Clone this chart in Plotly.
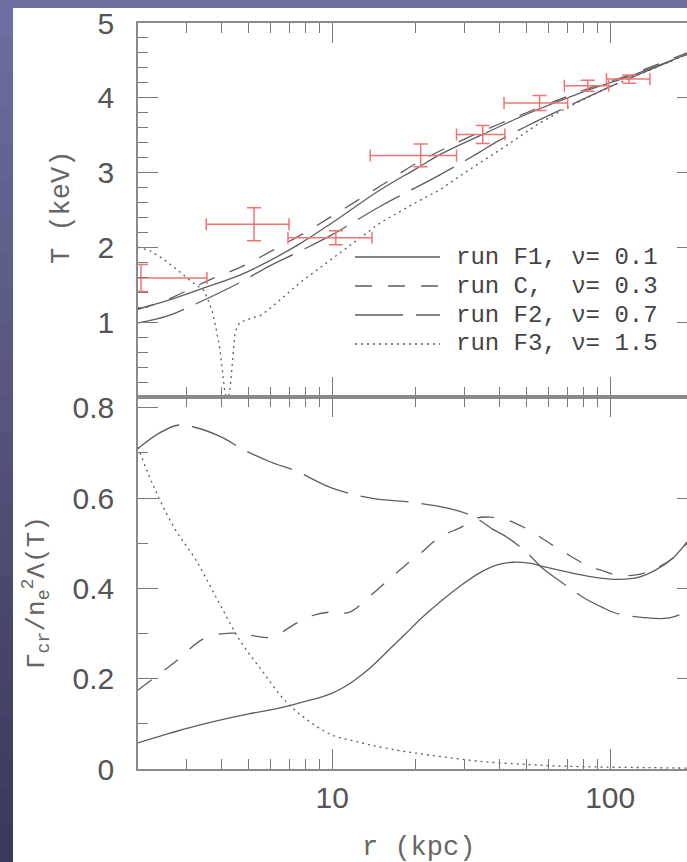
import numpy as np
import plotly.graph_objects as go

# ---------------- data ----------------
# top panel: temperature profiles T(r) [keV]
f1_r = [2, 2.5, 3.34, 4.65, 5.8, 7.66, 10, 14.9, 20, 24.4, 34.8, 50, 80, 120, 189]
f1_T = [1.18, 1.28, 1.44, 1.63, 1.8, 2.05, 2.33, 2.77, 3.05, 3.24, 3.51, 3.78, 4.08, 4.3, 4.58]

c_r = [2, 2.54, 3.64, 4.77, 6.1, 8, 10, 14.9, 20, 30, 50, 80, 120, 189]
c_T = [1.17, 1.3, 1.57, 1.75, 1.96, 2.2, 2.42, 2.82, 3.12, 3.45, 3.8, 4.1, 4.32, 4.6]

f2_r = [2, 2.54, 3.34, 4.65, 5.8, 7.66, 10, 14.9, 24.4, 33.8, 39, 50, 70, 100, 140, 189]
f2_T = [0.99, 1.08, 1.27, 1.53, 1.73, 1.95, 2.17, 2.55, 2.97, 3.27, 3.41, 3.62, 3.88, 4.15, 4.38, 4.58]

f3_r = [2, 2.2, 2.5, 2.8, 3.1, 3.47, 3.7, 3.8, 3.92, 4.0, 4.1, 4.15, 4.25, 4.3, 4.4, 4.47,
        4.65, 5.0, 5.6, 6.5, 7.66, 10, 14.9, 20, 24.4, 30, 40, 55, 70, 100, 140, 189]
f3_T = [2.0, 1.96, 1.83, 1.68, 1.55, 1.42, 1.15, 0.95, 0.7, 0.45, 0.08, 0.0, 0.02, 0.15, 0.6, 0.87,
        1.0, 1.04, 1.1, 1.3, 1.53, 1.85, 2.33, 2.6, 2.77, 3.0, 3.3, 3.65, 3.87, 4.15, 4.38, 4.58]

# observed temperatures with error bars
obs_r = [2.05, 5.23, 10.3, 20.8, 34.8, 55.7, 83.1, 117]
obs_T = [1.59, 2.31, 2.13, 3.23, 3.51, 3.93, 4.16, 4.25]
obs_Terr = [0.18, 0.22, 0.093, 0.153, 0.12, 0.1, 0.073, 0.055]
obs_rlo = [1.2, 3.52, 6.93, 13.7, 28.0, 41.5, 68.4, 97]
obs_rhi = [3.54, 6.99, 13.9, 28.0, 41.8, 70.3, 98.8, 139]

# bottom panel: Gamma_cr / (n_e^2 Lambda(T))
g1_r = [2, 3, 3.87, 5, 6.68, 8, 9, 10, 11, 12, 13.8, 16, 18.4, 21, 24.4, 28.8, 33.8, 39.2, 44.8,
        51, 58.8, 73, 92, 108, 127, 146, 168, 189]
g1_v = [0.058, 0.09, 0.107, 0.122, 0.137, 0.15, 0.158, 0.168, 0.181, 0.196, 0.226, 0.264, 0.3,
        0.335, 0.37, 0.405, 0.434, 0.452, 0.458, 0.456, 0.447, 0.434, 0.423, 0.42, 0.425, 0.441,
        0.467, 0.503]

gc_r = [2, 2.69, 3.48, 4.32, 5.0, 5.99, 7.44, 8.5, 10, 11.5, 13.8, 16, 18.4, 21, 24.4, 28.8, 33.2,
        36.9, 42.4, 48.7, 54.6, 62, 71, 82, 92, 105, 124, 142, 168, 189]
gc_v = [0.175, 0.235, 0.29, 0.301, 0.297, 0.292, 0.323, 0.34, 0.348, 0.347, 0.385, 0.42, 0.452,
        0.48, 0.514, 0.534, 0.556, 0.558, 0.552, 0.536, 0.518, 0.496, 0.474, 0.452, 0.441, 0.43,
        0.43, 0.441, 0.467, 0.5]

g2_r = [2, 2.4, 2.8, 3.2, 4, 4.8, 6, 7.4, 10, 13.8, 19.8, 26, 32, 38.3, 42.4, 50, 57, 65, 80, 93,
        105, 130, 160, 189]
g2_v = [0.71, 0.745, 0.762, 0.757, 0.735, 0.707, 0.68, 0.66, 0.622, 0.6, 0.59, 0.578, 0.56, 0.529,
        0.514, 0.48, 0.445, 0.419, 0.38, 0.359, 0.345, 0.336, 0.334, 0.348]

g3_r = [2, 2.25, 2.69, 3.23, 3.87, 4.64, 5.57, 6.68, 8.0, 10, 12, 14, 17, 20, 25, 34, 50, 70, 100,
        140, 189]
g3_v = [0.713, 0.633, 0.536, 0.463, 0.374, 0.286, 0.219, 0.155, 0.112, 0.075, 0.062, 0.052, 0.042,
        0.035, 0.027, 0.017, 0.01, 0.006, 0.004, 0.003, 0.002]

legend_labels = ["run F1, \u03bd= 0.1", "run C,\u00a0\u00a0\u03bd= 0.3",
                 "run F2, \u03bd= 0.7", "run F3, \u03bd= 1.5"]

x_major = [10, 100]
x_minor = [2, 3, 4, 5, 6, 7, 8, 9, 20, 30, 40, 50, 60, 70, 80, 90]
y1_ticks = [1, 2, 3, 4, 5]
y2_ticks = [0, 0.2, 0.4, 0.6, 0.8]
y2_text = ["0", "0.2", "0.4", "0.6", "0.8"]

# ---------------- layout geometry ----------------
W, H = 687, 862
ML, MR, MT, MB = 138, 0, 23, 93
PW = W - ML - MR
PH = H - MT - MB
SPLIT = (769 - 397) / PH


def px(xp):
    return (xp - ML) / PW


def py(yp):
    return (H - MB - yp) / PH


LINE = "#5e5e5e"
RED = "#f07474"
AX = "#8a8a8a"
TICKC = "#7a7a7a"
dashes = ["solid", "17px,16px", "48px,13px", "2px,4px"]
LW = 1.3

fig = go.Figure()

top = [(f1_r, f1_T, "spline"), (c_r, c_T, "spline"), (f2_r, f2_T, "spline"), (f3_r, f3_T, "linear")]
for (r, t, shp), d in zip(top, dashes):
    fig.add_trace(go.Scatter(x=r, y=t, mode="lines", xaxis="x", yaxis="y", showlegend=False,
                             line=dict(color=LINE, width=LW, dash=d, shape=shp), hoverinfo="skip"))

obs_r_a = np.array(obs_r)
fig.add_trace(go.Scatter(
    x=obs_r, y=obs_T, mode="markers", xaxis="x", yaxis="y", showlegend=False,
    marker=dict(size=2, color=RED),
    error_y=dict(type="data", array=obs_Terr, color=RED, thickness=1.5, width=7),
    error_x=dict(type="data", symmetric=False, array=list(np.array(obs_rhi) - obs_r_a),
                 arrayminus=list(obs_r_a - np.array(obs_rlo)), color=RED, thickness=1.5, width=6),
))

bot = [(g1_r, g1_v), (gc_r, gc_v), (g2_r, g2_v), (g3_r, g3_v)]
for (r, v), d in zip(bot, dashes):
    fig.add_trace(go.Scatter(x=r, y=v, mode="lines", xaxis="x2", yaxis="y2", showlegend=False,
                             line=dict(color=LINE, width=LW, dash=d, shape="spline"), hoverinfo="skip"))

# dummy traces to activate right-side stub axes
fig.add_trace(go.Scatter(x=[None], y=[None], xaxis="x", yaxis="y3", showlegend=False, hoverinfo="skip"))
fig.add_trace(go.Scatter(x=[None], y=[None], xaxis="x2", yaxis="y4", showlegend=False, hoverinfo="skip"))

tickfont = dict(family="Liberation Sans", size=30, color="#555555")
xr = [np.log10(2), np.log10(189)]
xcommon = dict(type="log", range=xr, domain=[0, 1], showgrid=False, zeroline=False,
               showline=True, linecolor=AX, linewidth=1.5, mirror="ticks",
               ticks="inside", ticklen=20, tickwidth=1.2, tickcolor=TICKC,
               tickmode="array", tickvals=x_major, ticktext=["10", "100"],
               minor=dict(ticks="inside", ticklen=10, tickwidth=1.2, tickcolor=TICKC,
                          tickmode="array", tickvals=x_minor, showgrid=False),
               tickfont=tickfont, ticklabelstandoff=1)

ycommon = dict(showgrid=False, zeroline=False, showline=True, linecolor=AX, linewidth=1.5,
               ticks="inside", ticklen=20, tickwidth=1.2, tickcolor=TICKC, tickmode="array",
               tickfont=tickfont, ticklabelstandoff=16)

fig.update_layout(
    width=W, height=H,
    margin=dict(l=ML, r=MR, t=MT, b=MB, pad=0),
    paper_bgcolor="white", plot_bgcolor="white",
    showlegend=False,
    xaxis=dict(**xcommon, anchor="y", showticklabels=False),
    xaxis2=dict(**xcommon, anchor="y2", showticklabels=True),
    yaxis=dict(**ycommon, domain=[SPLIT, 1], range=[0, 5], anchor="x",
               tickvals=y1_ticks, ticktext=[str(v) for v in y1_ticks],
               minor=dict(ticks="inside", ticklen=10, tickwidth=1.2, tickcolor=TICKC, dtick=0.2,
                          showgrid=False)),
    yaxis2=dict(**ycommon, domain=[0, SPLIT], range=[0, 0.824], anchor="x2",
                tickvals=y2_ticks, ticktext=y2_text,
                minor=dict(ticks="inside", ticklen=10, tickwidth=1.2, tickcolor=TICKC, dtick=0.1,
                           showgrid=False)),
    yaxis3=dict(overlaying="y", side="right", anchor="x", range=[0, 5], showgrid=False,
                zeroline=False, showline=False, showticklabels=False, ticks="inside", ticklen=10,
                tickwidth=1.2, tickcolor=TICKC, tickmode="array", tickvals=[1, 2, 3, 4]),
    yaxis4=dict(overlaying="y2", side="right", anchor="x2", range=[0, 0.824], showgrid=False,
                zeroline=False, showline=False, showticklabels=False, ticks="inside", ticklen=10,
                tickwidth=1.2, tickcolor=TICKC, tickmode="array", tickvals=[0.2, 0.4, 0.6]),
)

shapes = []
# purple frame bands (left gradient, top band)
n = 24
c0 = np.array([110, 110, 160])
c1 = np.array([58, 58, 90])
for i in range(n):
    f = i / (n - 1)
    c = (c0 * (1 - f) + c1 * f).astype(int)
    y0p = H * i / n
    y1p = H * (i + 1) / n
    shapes.append(dict(type="rect", xref="paper", yref="paper", x0=px(0), x1=px(13),
                       y0=py(y1p + 1), y1=py(y0p), line=dict(width=0),
                       fillcolor=f"rgb({c[0]},{c[1]},{c[2]})", layer="above"))
shapes.append(dict(type="rect", xref="paper", yref="paper", x0=px(13), x1=px(W + 2),
                   y0=py(8), y1=py(0), line=dict(width=0), fillcolor="rgb(112,112,160)",
                   layer="above"))

# legend samples
leg_y = [257, 286, 315, 344]
for yy, d in zip(leg_y, dashes):
    shapes.append(dict(type="line", xref="paper", yref="paper", x0=px(355), x1=px(440),
                       y0=py(yy), y1=py(yy), line=dict(color=LINE, width=LW, dash=d)))
fig.update_layout(shapes=shapes)

ann = []
mono = "Liberation Mono"
for yy, lab in zip(leg_y, legend_labels):
    ann.append(dict(text=lab, xref="paper", yref="paper", x=px(454), y=py(yy), xanchor="left",
                    yanchor="middle", showarrow=False,
                    font=dict(family=mono, size=24, color="#444444")))
ann.append(dict(text="T (keV)", xref="paper", yref="paper", x=px(62), y=py(208), textangle=-90,
                xanchor="center", yanchor="middle", showarrow=False,
                font=dict(family=mono, size=27, color="#666666")))
ann.append(dict(text="\u0393<sub>cr</sub>/n<sub>e</sub><sup>2</sup>\u039b(T)", xref="paper",
                yref="paper", x=px(36), y=py(593), textangle=-90, xanchor="center",
                yanchor="middle", showarrow=False,
                font=dict(family=mono, size=26, color="#666666")))
ann.append(dict(text="r (kpc)", xref="paper", yref="paper", x=px(418), y=py(848),
                xanchor="center", yanchor="middle", showarrow=False,
                font=dict(family=mono, size=27, color="#666666")))
fig.update_layout(annotations=ann)

fig.write_html("out.html")
